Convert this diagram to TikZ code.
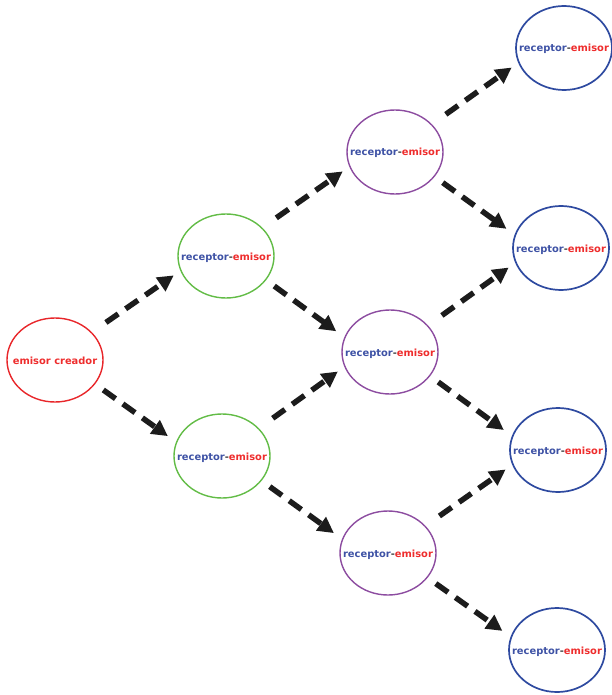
\documentclass[tikz,border=0pt]{standalone}
\usepackage{fontspec}
\setmainfont{DejaVu Sans}
\usepackage{xcolor}
\usepackage{tikz}
\usetikzlibrary{
  shapes.geometric,
  arrows.meta
}
\definecolor{rojo}{RGB}{238,45,45}
\definecolor{azultexto}{RGB}{62,82,165}
\definecolor{guion}{RGB}{70,70,70}
\definecolor{bordeRojo}{RGB}{232,38,42}
\definecolor{bordeVerde}{RGB}{98,188,70}
\definecolor{bordeMorado}{RGB}{140,76,160}
\definecolor{bordeAzul}{RGB}{46,74,160}
\definecolor{flechagris}{RGB}{28,28,28}
\newcommand{\recemi}{\makebox[0pt]{\textcolor{azultexto}{receptor}\textcolor{guion}{-}\textcolor{rojo}{emisor}}}

\begin{document}
\begin{tikzpicture}[x = 1pt, y = -1pt]
  \tikzset{
    nodo/.style = {ellipse, draw, line width = 1.4pt, minimum width = 96pt, minimum height = 84pt, inner sep = 0pt, text height = 10pt, text depth = 2pt, font = \fontsize{9.9pt}{12pt}\selectfont\bfseries},
    flecha/.style = {line width = 5.5pt, color = flechagris, dash pattern = on 15pt off 9pt, -{Triangle[length = 16pt, width = 16pt]}},
    sube/.style = {flecha, shorten < = 17pt, shorten > = 8pt},
    baja/.style = {flecha, shorten < = 10pt, shorten > = 10pt}
  }
  \useasboundingbox (0,0) rectangle (611,695);

  \node[nodo, draw = bordeRojo] (emisor) at (55,360) {\makebox[0pt]{\textcolor{rojo}{emisor creador}}};

  \node[nodo, draw = bordeVerde] (rg1) at (226,256) {\recemi};
  \node[nodo, draw = bordeVerde] (rg2) at (222,456) {\recemi};

  \node[nodo, draw = bordeMorado] (rp1) at (395,152) {\recemi};
  \node[nodo, draw = bordeMorado] (rp2) at (390,352) {\recemi};
  \node[nodo, draw = bordeMorado] (rp3) at (388,553) {\recemi};

  \node[nodo, draw = bordeAzul, line width = 1.7pt] (rb1) at (564,48) {\recemi};
  \node[nodo, draw = bordeAzul, line width = 1.7pt] (rb2) at (561,248) {\recemi};
  \node[nodo, draw = bordeAzul, line width = 1.7pt] (rb3) at (558,450) {\recemi};
  \node[nodo, draw = bordeAzul, line width = 1.7pt] (rb4) at (557,650) {\recemi};

  \draw[sube] (emisor.37) -- (rg1.198);
  \draw[baja] (emisor.-31) -- (rg2.163);
  \draw[sube] (rg1.38) -- (rp1.198);
  \draw[baja] (rg1.-31) -- (rp2.162);
  \draw[sube] (rg2.37) -- (rp2.198);
  \draw[baja] (rg2.-32) -- (rp3.163);
  \draw[sube] (rp1.37) -- (rb1.198);
  \draw[baja] (rp1.-32) -- (rb2.164);
  \draw[sube] (rp2.35) -- (rb2.198);
  \draw[baja] (rp2.-31) -- (rb3.163);
  \draw[sube] (rp3.36) -- (rb3.198);
  \draw[baja] (rp3.-32) -- (rb4.164);
\end{tikzpicture}
\end{document}
